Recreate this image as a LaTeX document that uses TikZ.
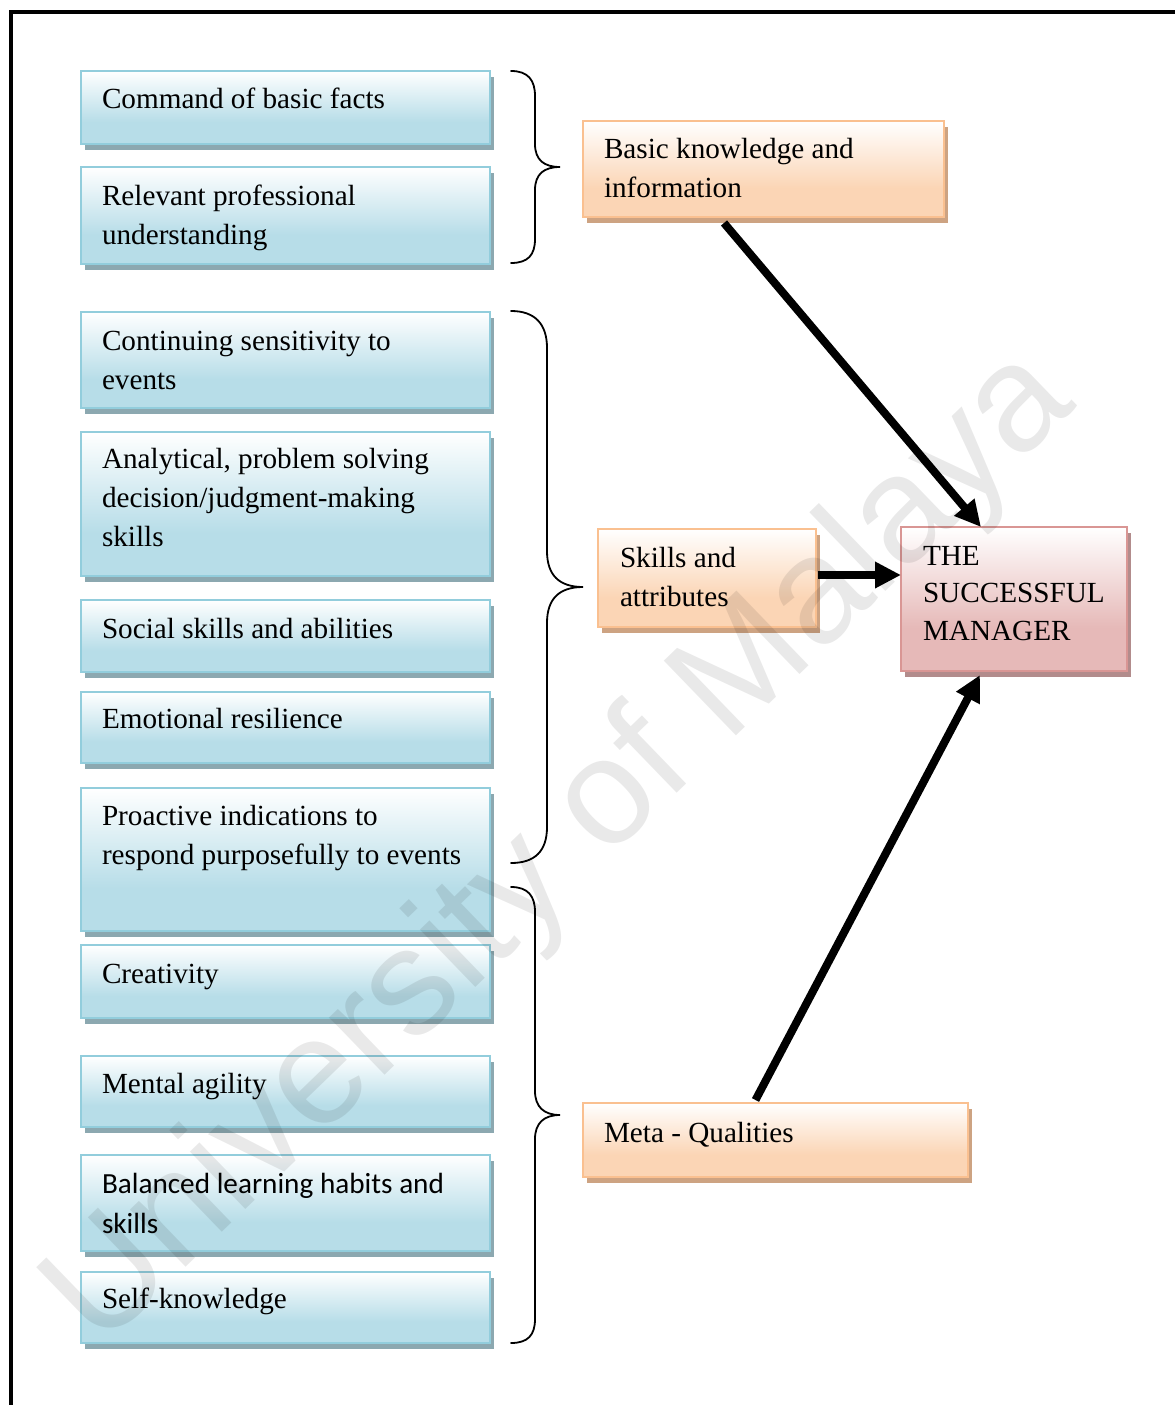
\documentclass[tikz,border=0pt]{standalone}
\usepackage{fontspec}
\setmainfont{Liberation Serif}
\newfontfamily\calibrilike{Carlito}
\newfontfamily\markfont{Liberation Sans}
\usetikzlibrary{arrows.meta,calc}

% text sizes
\newcommand\cardfont{\fontsize{29.2pt}{39pt}\selectfont}
\newcommand\managerfont{\fontsize{29.2pt}{37.5pt}\selectfont}
\newcommand\sansfont{\calibrilike\fontsize{29.2pt}{40pt}\selectfont}
% word spacing, set once the node text has started
\newcommand\serifwords{\spaceskip=0.25em\relax}
\newcommand\sanswords{\spaceskip=0.23em\relax}

% palettes: edge, lower fill, drop shadow
\definecolor{blueedge}{RGB}{146,205,220}
\definecolor{bluefill}{RGB}{183,221,232}
\definecolor{blueshadow}{RGB}{140,168,176}
\definecolor{orangeedge}{RGB}{250,192,144}
\definecolor{orangefill}{RGB}{251,213,181}
\definecolor{orangeshadow}{RGB}{205,163,130}
\definecolor{pinkedge}{RGB}{217,150,148}
\definecolor{pinkfill}{RGB}{230,185,184}
\definecolor{pinkshadow}{RGB}{178,140,140}

% white at the top, fading into the palette colour towards the bottom
\pgfdeclareverticalshading{blueshade}{100bp}{color(0bp)=(bluefill); color(25bp)=(bluefill); color(40bp)=(bluefill); color(75bp)=(white); color(100bp)=(white)}
\pgfdeclareverticalshading{orangeshade}{100bp}{color(0bp)=(orangefill); color(25bp)=(orangefill); color(40bp)=(orangefill); color(75bp)=(white); color(100bp)=(white)}
\pgfdeclareverticalshading{pinkshade}{100bp}{color(0bp)=(pinkfill); color(25bp)=(pinkfill); color(40bp)=(pinkfill); color(75bp)=(white); color(100bp)=(white)}

\tikzset{
  card/.style={anchor=north west, inner sep=0pt, outer sep=0pt,
    draw=#1edge, line width=2.5pt, shade, shading=#1shade,
    preaction={fill=#1shadow, transform canvas={xshift=4pt, yshift=-6pt}}},
  label text/.style={anchor=base west, inner sep=0pt, outer sep=0pt,
    text width=440pt, align=left, font=\cardfont,
    execute at begin node=\serifwords},
  sans text/.style={label text, font=\sansfont,
    execute at begin node=\sanswords},
  brace line/.style={line width=1.8pt, line cap=round},
  push/.style={line width=8pt, -{Triangle[length=26pt, width=25pt]}},
}

% #1 palette, #2 name, #3/#4 top-left corner, #5/#6 bottom-right corner
\newcommand\cardbox[6]{%
  \node[card=#1, minimum width={(#5-#3)*1pt}, minimum height={(#6-#4)*1pt}] (#2) at (#3,#4) {};}

\begin{document}
\begin{tikzpicture}[x=1pt, y=-1pt]
\useasboundingbox (0,0) rectangle (1175,1405);

% frame
\draw[line width=4pt] (10.5,1405) -- (10.5,12.5) -- (1175,12.5);

% left column
\cardbox{blue}{command}{81}{71}{490}{144}
\cardbox{blue}{relevant}{81}{167}{490}{264}
\cardbox{blue}{continuing}{81}{312}{490}{408}
\cardbox{blue}{analytical}{81}{432}{490}{576}
\cardbox{blue}{social}{81}{600}{490}{672}
\cardbox{blue}{emotional}{81}{692}{490}{763}
\cardbox{blue}{proactive}{81}{788}{490}{931}
\cardbox{blue}{creativity}{81}{945}{490}{1018}
\cardbox{blue}{mental}{81}{1056}{490}{1127}
\cardbox{blue}{balanced}{81}{1155}{490}{1251}
\cardbox{blue}{selfknow}{81}{1272}{490}{1343}

\node[label text] (t-command) at (102,108) {Command of basic facts};
\node[label text] (t-relevant) at (102,205) {Relevant professional\\understanding};
\node[label text] (t-continuing) at (102,350) {Continuing sensitivity to\\events};
\node[label text] (t-analytical) at (102,468) {Analytical, problem solving\\decision/judgment-making\\skills};
\node[label text] (t-social) at (102,638) {Social skills and abilities};
\node[label text] (t-emotional) at (102,728) {Emotional resilience};
\node[label text] (t-proactive) at (102,825) {Proactive indications to\\respond purposefully to events};
\node[label text] (t-creativity) at (102,983) {Creativity};
\node[label text] (t-mental) at (102,1093) {Mental agility};
\node[sans text] (t-balanced) at (102,1193) {Balanced learning habits and\\skills};
\node[label text] (t-selfknow) at (102,1308) {Self-knowledge};

% groups
\cardbox{orange}{basic}{583}{121}{944}{217}
\cardbox{orange}{skills}{598}{529}{816}{627}
\cardbox{orange}{meta}{583}{1103}{968}{1177}
\cardbox{pink}{manager}{901}{527}{1127}{671}

\node[label text] (t-basic) at (604,158) {Basic knowledge and\\information};
\node[label text] (t-skills) at (620,567) {Skills and\\attributes};
\node[label text] (t-meta) at (604,1142) {Meta - Qualities};
\node[label text, font=\managerfont] (t-manager) at (923,565) {THE\\SUCCESSFUL\\MANAGER};

% braces gathering the items
\draw[brace line] (511,71) .. controls (528,71) and (535,80) .. (535,96)
  -- (535,144) .. controls (535,160) and (544,167) .. (560,167)
  .. controls (544,167) and (535,174) .. (535,190)
  -- (535,239) .. controls (535,255) and (528,263) .. (511,263);
\draw[brace line] (511,311) .. controls (535,311) and (547,324) .. (547,348)
  -- (547,551) .. controls (547,575) and (559,587) .. (583,587)
  .. controls (559,587) and (547,599) .. (547,623)
  -- (547,827) .. controls (547,851) and (535,863) .. (511,863);
\draw[brace line] (511,887) .. controls (528,887) and (535,896) .. (535,912)
  -- (535,1091) .. controls (535,1107) and (544,1115) .. (560,1115)
  .. controls (544,1115) and (535,1123) .. (535,1139)
  -- (535,1319) .. controls (535,1335) and (528,1343) .. (511,1343);

% arrows into the manager box
\draw[push] ([xshift=-39.5pt, yshift=-6pt]basic.south) -- ([xshift=-33pt]manager.north);
\draw[push] ([xshift=2pt, yshift=3pt]skills.east) -- ([yshift=24pt]manager.west);
\draw[push] ([xshift=-20pt, yshift=3pt]meta.north) -- ([xshift=-34pt, yshift=-4pt]manager.south);

% watermark
\node[font=\markfont\fontsize{151pt}{151pt}\selectfont, text=black, text opacity=0.085,
  rotate=44, inner sep=0pt] (mark) at (562,850) {University of Malaya};
\end{tikzpicture}
\end{document}
